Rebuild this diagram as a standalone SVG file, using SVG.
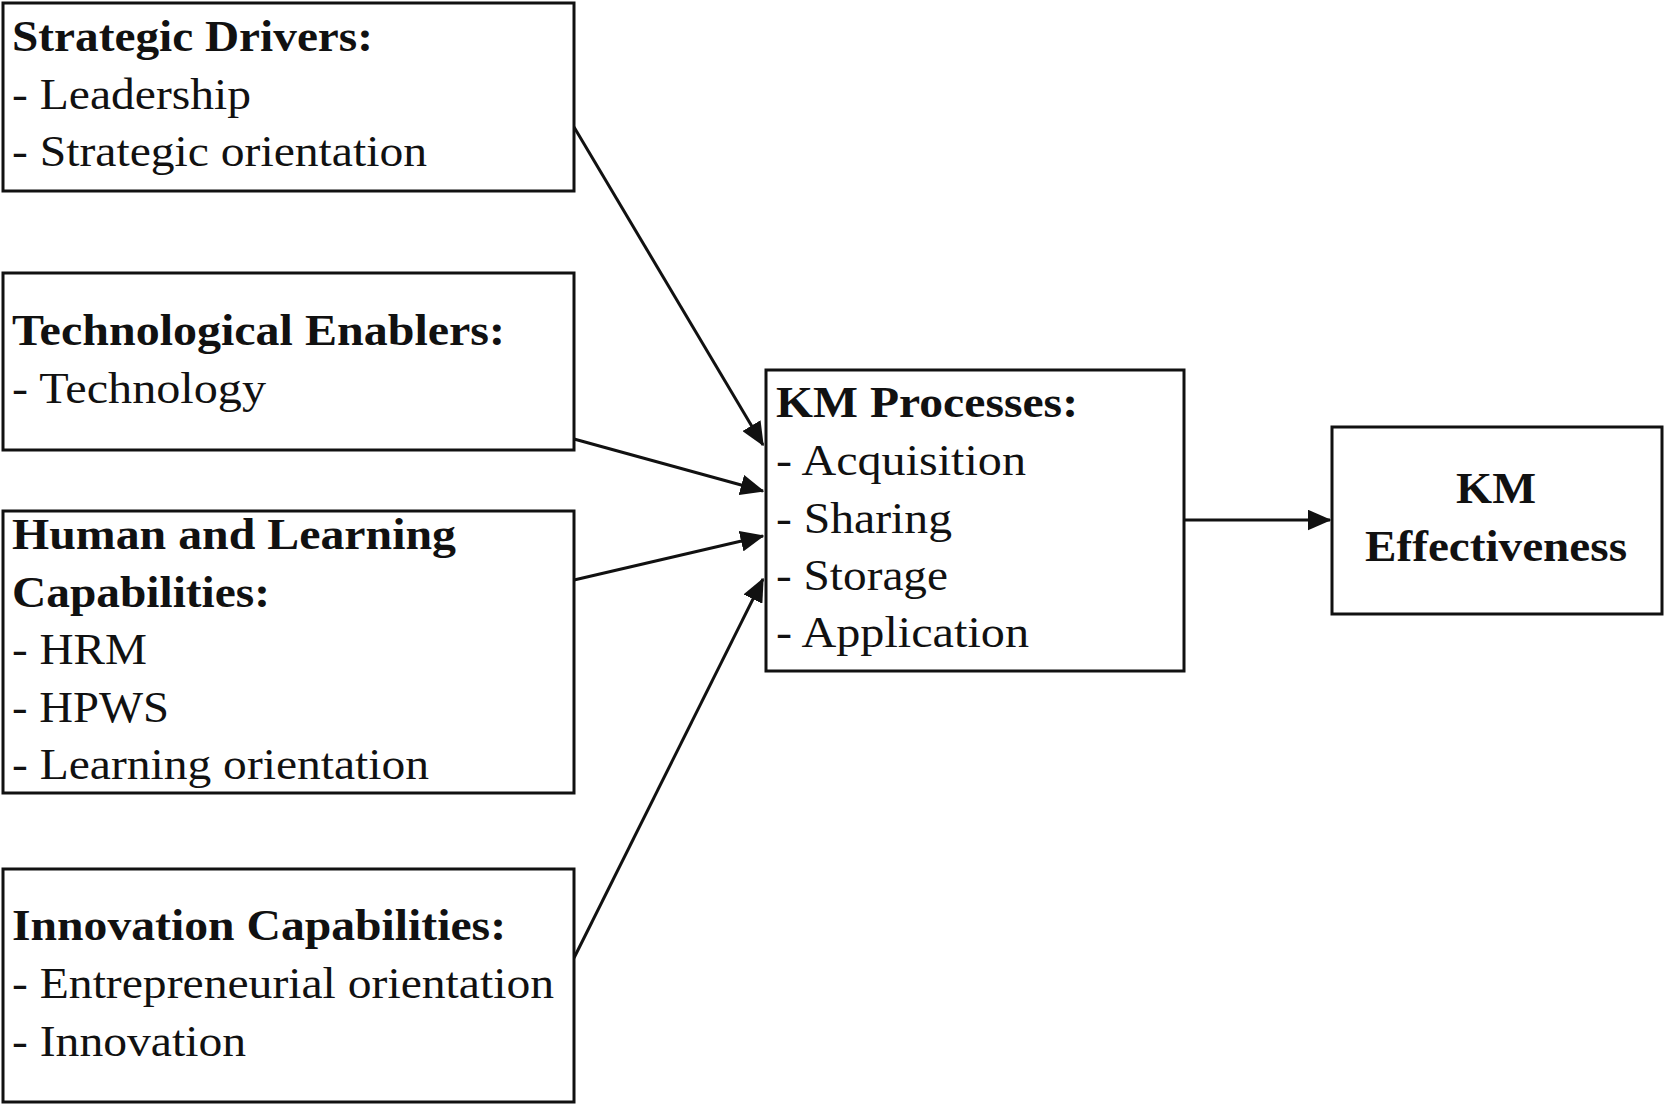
<svg xmlns="http://www.w3.org/2000/svg" width="1665" height="1105" viewBox="0 0 1665 1105">
<style>
.box{fill:#fff;stroke:#111;stroke-width:3}
.t{font-family:"Liberation Serif","Times New Roman",serif;font-size:44px;fill:#111}
.b{font-weight:bold}
.c{stroke:#111;stroke-width:3;fill:none}
</style>
<defs>
<marker id="ah" markerWidth="8" markerHeight="7" refX="7.5" refY="3.5" orient="auto" markerUnits="strokeWidth">
<path d="M0,0 L8,3.5 L0,7 Z" fill="#111"/>
</marker>
</defs>
<rect width="1665" height="1105" fill="#fff"/>
<g id="connectors">
<line class="c" x1="574" y1="127" x2="763" y2="445" marker-end="url(#ah)"/>
<line class="c" x1="574" y1="439" x2="763" y2="491" marker-end="url(#ah)"/>
<line class="c" x1="574" y1="580" x2="763" y2="536" marker-end="url(#ah)"/>
<line class="c" x1="574" y1="958" x2="763" y2="579" marker-end="url(#ah)"/>
<line class="c" x1="1184" y1="520" x2="1330" y2="520" marker-end="url(#ah)"/>
</g>
<g id="strategic-drivers">
<rect class="box" x="3" y="3" width="571" height="188"/>
<text class="t b" x="12" y="51" textLength="361" lengthAdjust="spacingAndGlyphs">Strategic Drivers:</text>
<text class="t" x="12" y="109" textLength="239" lengthAdjust="spacingAndGlyphs">- Leadership</text>
<text class="t" x="12" y="166" textLength="415" lengthAdjust="spacingAndGlyphs">- Strategic orientation</text>
</g>
<g id="technological-enablers">
<rect class="box" x="3" y="273" width="571" height="177"/>
<text class="t b" x="12" y="345" textLength="493" lengthAdjust="spacingAndGlyphs">Technological Enablers:</text>
<text class="t" x="12" y="403" textLength="254" lengthAdjust="spacingAndGlyphs">- Technology</text>
</g>
<g id="human-learning">
<rect class="box" x="3" y="511" width="571" height="282"/>
<text class="t b" x="12" y="549" textLength="444" lengthAdjust="spacingAndGlyphs">Human and Learning</text>
<text class="t b" x="12" y="607" textLength="258" lengthAdjust="spacingAndGlyphs">Capabilities:</text>
<text class="t" x="12" y="664" textLength="135" lengthAdjust="spacingAndGlyphs">- HRM</text>
<text class="t" x="12" y="722" textLength="157" lengthAdjust="spacingAndGlyphs">- HPWS</text>
<text class="t" x="12" y="779" textLength="417" lengthAdjust="spacingAndGlyphs">- Learning orientation</text>
</g>
<g id="innovation">
<rect class="box" x="3" y="869" width="571" height="233"/>
<text class="t b" x="12" y="940" textLength="494" lengthAdjust="spacingAndGlyphs">Innovation Capabilities:</text>
<text class="t" x="12" y="998" textLength="542" lengthAdjust="spacingAndGlyphs">- Entrepreneurial orientation</text>
<text class="t" x="12" y="1056" textLength="234" lengthAdjust="spacingAndGlyphs">- Innovation</text>
</g>
<g id="km-processes">
<rect class="box" x="766" y="370" width="418" height="301"/>
<text class="t b" x="776" y="417" textLength="302" lengthAdjust="spacingAndGlyphs">KM Processes:</text>
<text class="t" x="776" y="475" textLength="250" lengthAdjust="spacingAndGlyphs">- Acquisition</text>
<text class="t" x="776" y="533" textLength="176" lengthAdjust="spacingAndGlyphs">- Sharing</text>
<text class="t" x="776" y="590" textLength="172" lengthAdjust="spacingAndGlyphs">- Storage</text>
<text class="t" x="776" y="647" textLength="253" lengthAdjust="spacingAndGlyphs">- Application</text>
</g>
<g id="km-effectiveness">
<rect class="box" x="1332" y="427" width="330" height="187"/>
<text class="t b" x="1496" y="503" text-anchor="middle" textLength="80" lengthAdjust="spacingAndGlyphs">KM</text>
<text class="t b" x="1496" y="561" text-anchor="middle" textLength="262" lengthAdjust="spacingAndGlyphs">Effectiveness</text>
</g>
</svg>
